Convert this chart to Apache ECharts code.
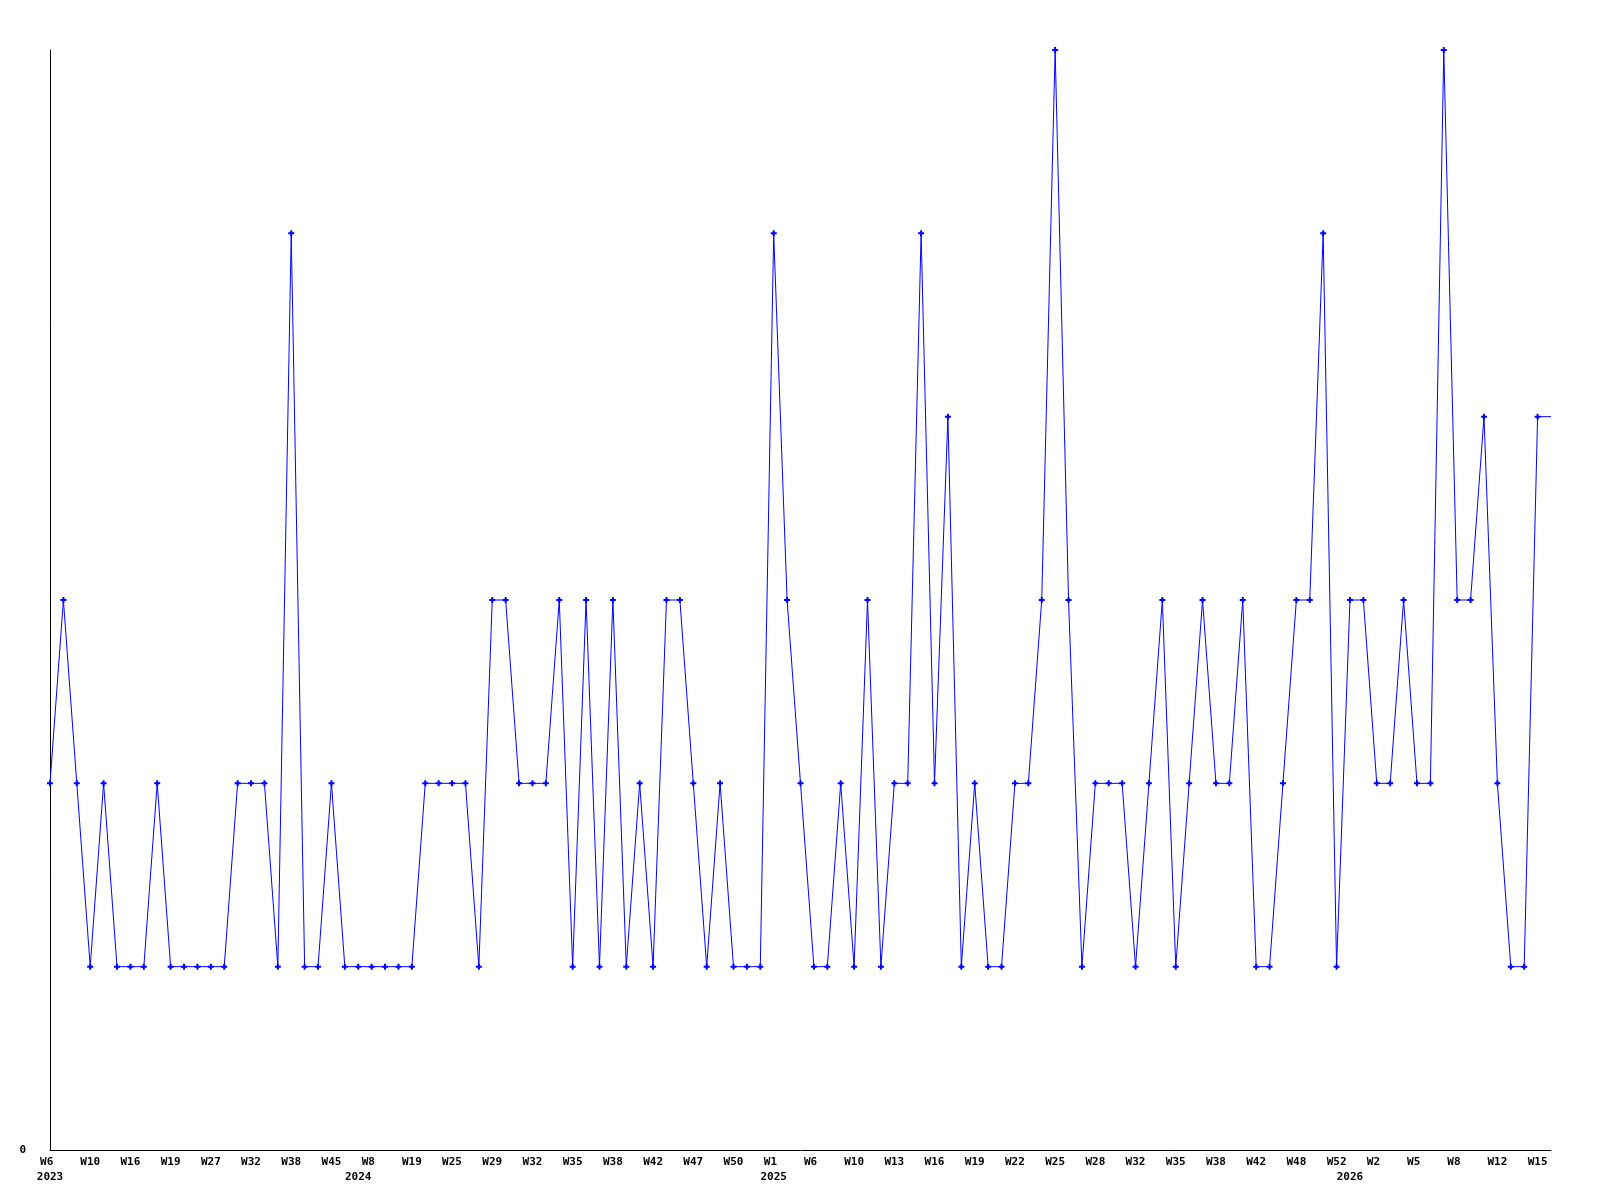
<!DOCTYPE html>
<html>
<head>
<meta charset="utf-8">
<script src="https://cdn.jsdelivr.net/npm/echarts@6/dist/echarts.min.js"></script>
<style>
  html, body { margin: 0; padding: 0; background: #ffffff; }
  #chart { width: 1600px; height: 1200px; }
</style>
</head>
<body>
<div id="chart"></div>
<script>
// Sample dates (one per point); the last entry only carries the line to the right edge.
const dates = [
  '2023-02-08','2023-02-15','2023-03-01','2023-03-08','2023-03-22','2023-04-05','2023-04-19','2023-04-26',
  '2023-05-03','2023-05-10','2023-05-31','2023-06-21','2023-07-05','2023-07-19','2023-07-26','2023-08-09',
  '2023-08-23','2023-09-06','2023-09-20','2023-10-11','2023-10-25','2023-11-08','2023-11-29',
  '2024-01-10','2024-02-21','2024-03-20','2024-04-17','2024-05-08','2024-05-22','2024-06-05','2024-06-19',
  '2024-07-03','2024-07-10','2024-07-17','2024-07-24','2024-07-31','2024-08-07','2024-08-14','2024-08-21',
  '2024-08-28','2024-09-04','2024-09-11','2024-09-18','2024-09-25','2024-10-09','2024-10-16','2024-10-30',
  '2024-11-13','2024-11-20','2024-11-27','2024-12-04','2024-12-11','2024-12-18','2024-12-25',
  '2025-01-01','2025-01-15','2025-01-22','2025-02-05','2025-02-12','2025-02-26','2025-03-05','2025-03-12',
  '2025-03-19','2025-03-26','2025-04-02','2025-04-09','2025-04-16','2025-04-23','2025-04-30','2025-05-07',
  '2025-05-14','2025-05-21','2025-05-28','2025-06-04','2025-06-11','2025-06-18','2025-06-25','2025-07-02',
  '2025-07-09','2025-07-23','2025-07-30','2025-08-06','2025-08-13','2025-08-20','2025-08-27','2025-09-03',
  '2025-09-10','2025-09-17','2025-09-24','2025-10-01','2025-10-15','2025-10-29','2025-11-12','2025-11-26',
  '2025-12-03','2025-12-17','2025-12-24',
  '2026-01-01','2026-01-03','2026-01-07','2026-01-14','2026-01-21','2026-01-28','2026-02-04','2026-02-11',
  '2026-02-18','2026-03-04','2026-03-11','2026-03-18','2026-03-25','2026-04-01','2026-04-08','2026-04-12'
];

const values = [
  2,3,2,1,2,1,1,1,2,1,1,1,1,1,2,2,2,1,5,1,1,2,1,
  1,1,1,1,1,2,2,2,2,1,3,3,2,2,2,3,1,3,1,3,1,2,1,3,3,2,1,2,1,1,1,
  5,3,2,1,1,2,1,3,1,2,2,5,2,4,1,2,1,1,2,2,3,6,3,1,2,2,2,1,2,3,1,2,3,2,2,3,1,1,2,3,3,5,1,
  3,3,2,2,3,2,2,6,3,3,4,2,1,1,4,4
];

const yTickLabels = ['0'];
const LABEL_EVERY = 3;

function isoWeek(s) {
  const p = s.split('-').map(Number);
  const t = new Date(Date.UTC(p[0], p[1] - 1, p[2]));
  const day = t.getUTCDay() || 7;
  t.setUTCDate(t.getUTCDate() + 4 - day);
  const ys = new Date(Date.UTC(t.getUTCFullYear(), 0, 1));
  return Math.ceil(((t - ys) / 86400000 + 1) / 7);
}
function yearOf(s) { return s.slice(0, 4); }

const FONT = '"DejaVu Sans Mono", "Liberation Mono", monospace';
const plus = 'path://M2,0H4V2H6V4H4V6H2V4H0V2H2Z';
const lastIdx = dates.length - 1;

const chart = echarts.init(document.getElementById('chart'), null, { renderer: 'canvas' });
chart.setOption({
  animation: false,
  backgroundColor: '#ffffff',
  grid: { left: 50, top: 50, right: 49, bottom: 50, containLabel: false },
  xAxis: [
    {
      type: 'category',
      data: dates,
      boundaryGap: false,
      position: 'bottom',
      axisLine: { show: true, lineStyle: { color: '#000000', width: 1 } },
      axisTick: { show: false },
      splitLine: { show: false },
      axisLabel: {
        interval: 0,
        showMinLabel: true,
        showMaxLabel: true,
        hideOverlap: false,
        margin: 7,
        color: '#000000',
        fontFamily: FONT,
        fontWeight: 'bold',
        fontSize: 11,
        formatter: (v, i) => (i % LABEL_EVERY === 0 && i !== lastIdx) ? ('W' + isoWeek(v)).padEnd(3, ' ') : ''
      }
    },
    {
      type: 'category',
      data: dates,
      boundaryGap: false,
      position: 'bottom',
      axisLine: { show: false },
      axisTick: { show: false },
      splitLine: { show: false },
      axisLabel: {
        interval: 0,
        showMinLabel: true,
        showMaxLabel: true,
        hideOverlap: false,
        margin: 22,
        color: '#000000',
        fontFamily: FONT,
        fontWeight: 'bold',
        fontSize: 11,
        formatter: (v, i) => (i === 0 || yearOf(dates[i - 1]) !== yearOf(v)) ? yearOf(v) : ''
      }
    }
  ],
  yAxis: {
    type: 'value',
    min: 0,
    max: 6,
    interval: 1,
    axisLine: { show: true, lineStyle: { color: '#000000', width: 1 } },
    axisTick: { show: false },
    splitLine: { show: false },
    axisLabel: {
      margin: 24,
      color: '#000000',
      fontFamily: FONT,
      fontWeight: 'bold',
      fontSize: 11,
      formatter: v => (v === 0 ? yTickLabels[0] : '')
    }
  },
  series: [{
    type: 'line',
    xAxisIndex: 0,
    data: values.map((v, i) => i === values.length - 1 ? { value: v, symbolSize: 0 } : v),
    symbol: plus,
    symbolSize: 6,
    showAllSymbol: true,
    lineStyle: { color: '#0000ff', width: 1 },
    itemStyle: { color: '#0000ff' },
    emphasis: { disabled: true },
    silent: true
  }]
});
</script>
</body>
</html>
